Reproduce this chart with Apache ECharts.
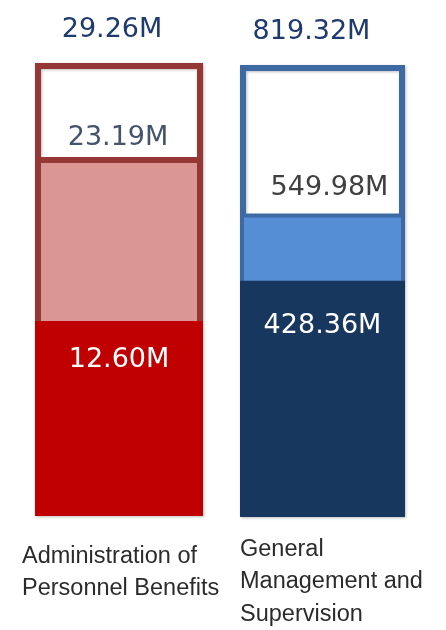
<!DOCTYPE html>
<html><head><meta charset="utf-8">
<script src="https://cdn.jsdelivr.net/npm/echarts@6/dist/echarts.min.js"></script>
<style>html,body{margin:0;padding:0;background:#fff}#c{width:446px;height:630px}</style>
</head><body><div id="c"></div>
<script>
const categories = ['Administration of\nPersonnel Benefits', 'General\nManagement and\nSupervision'];
const totalValues = [29.26, 819.32];
const midValues = [23.19, 549.98];
const innerValues = [12.60, 428.36];

const outerBorder = ['#953735', '#3E6AA3'];
const midFill = ['#D99694', '#558ED5'];
const midBorder = ['#953735', '#3E6AA3'];
const innerFill = ['#C00000', '#17375E'];
const midLabelColor = ['#44546A', '#404040'];

const grids = [
  {left: 35, width: 168, top: 63, height: 453},
  {left: 240, width: 165, top: 65, height: 452}
];
const topOffsets = [[-7, 0], [-11, 0]];
const midOffsets = [[-1, 0], [7, 0]];
const midDist = [5, 12];
const innerDist = [26, 32];
const catLeft = [22, 240];
const catTop = [540, 533];

const fmt = v => v.toFixed(2) + 'M';
const valueFont = '"DejaVu Sans", sans-serif';

const option = {
  animation: false,
  grid: grids.map(g => Object.assign({containLabel: false}, g)),
  xAxis: categories.map((c, i) => ({type: 'category', gridIndex: i, data: [c], show: false})),
  yAxis: totalValues.map((t, i) => ({type: 'value', gridIndex: i, min: 0, max: t, show: false})),
  series: [],
  graphic: categories.map((c, i) => ({
    type: 'text', left: catLeft[i], top: catTop[i],
    style: {text: c, font: '23.5px "Liberation Sans", Arial, sans-serif', fill: '#2b2b2b', lineHeight: 32.5}
  }))
};

categories.forEach((c, i) => {
  option.series.push({
    type: 'bar', xAxisIndex: i, yAxisIndex: i, barWidth: '100%', barGap: '-100%', z: 2,
    data: [totalValues[i]],
    itemStyle: {color: '#ffffff', borderColor: outerBorder[i], borderWidth: 6, shadowColor: 'rgba(0,0,0,0.25)', shadowBlur: 3, shadowOffsetX: 1, shadowOffsetY: 1},
    label: {show: true, position: 'top', distance: 20, offset: topOffsets[i], formatter: p => fmt(p.value),
      fontSize: 27, fontFamily: valueFont, color: '#1F3A6E'}
  });
  option.series.push({
    type: 'bar', xAxisIndex: i, yAxisIndex: i, barWidth: '100%', barGap: '-100%', z: 3,
    data: [midValues[i]],
    itemStyle: {color: midFill[i], borderColor: midBorder[i], borderWidth: i === 0 ? 6 : 4},
    label: {show: true, position: 'top', distance: midDist[i], offset: midOffsets[i], formatter: p => fmt(p.value),
      fontSize: 27, fontFamily: valueFont, color: midLabelColor[i]}
  });
  option.series.push({
    type: 'bar', xAxisIndex: i, yAxisIndex: i, barWidth: '100%', barGap: '-100%', z: 4,
    data: [innerValues[i]],
    itemStyle: {color: innerFill[i]},
    label: {show: true, position: 'insideTop', distance: innerDist[i], formatter: p => fmt(p.value),
      fontSize: 27, fontFamily: valueFont, color: '#ffffff'}
  });
});

const chart = echarts.init(document.getElementById('c'), null, {renderer: 'canvas'});
chart.setOption(option);
</script></body></html>
